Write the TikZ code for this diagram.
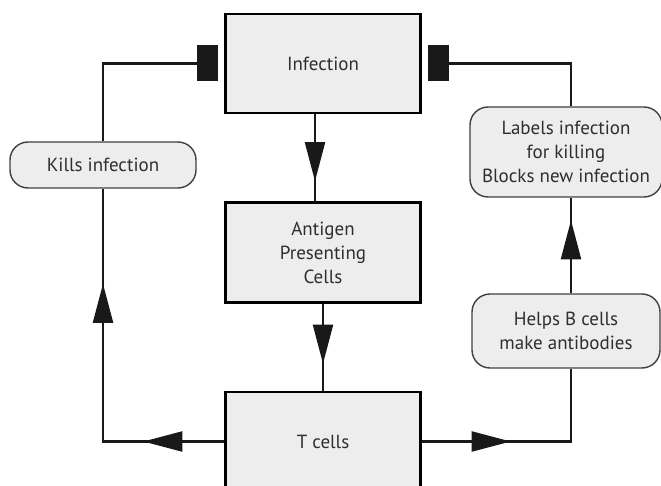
\documentclass[tikz,border=0pt]{standalone}
\usepackage{fontspec}
\setmainfont{PT Sans}
\usepackage{tikz}
\usetikzlibrary{positioning,arrows.meta,decorations.markings}
\definecolor{boxgrey}{HTML}{EDEDED}
\definecolor{inkgrey}{HTML}{2E2E2E}

\begin{document}
\begin{tikzpicture}[x=1pt,y=-1pt,
    every node/.style={on grid,node distance=189pt,align=center,text=inkgrey,
      font=\fontsize{19}{24}\selectfont},
    stage/.style={draw=black,line width=2.4pt,fill=boxgrey,minimum width=195pt,minimum height=99pt},
    effect/.style={draw=black!75,line width=1.4pt,fill=boxgrey,rounded corners=18pt,inner sep=0pt},
    link/.style={draw=black!90,line width=2.1pt},
    fat/.tip={Triangle[length=39pt,width=20pt]},
    block/.tip={Rectangle[length=21pt,width=36pt]},
    mid/.style={decoration={markings,mark=at position #1 with {\arrow{fat}}}}]
    \clip (0,0) rectangle (661,486);
    \node[stage] at (323,63.5) (Inf) {Infection};
    \node[stage,below of=Inf,minimum height=100pt] (APC) {Antigen\\Presenting\\Cells};
    \node[stage,below of=APC] (TCells) {T cells};
    \node[effect,minimum width=186pt,minimum height=46pt] at (103,165) (Kills) {Kills infection};
    \node[effect,minimum width=192pt,minimum height=90pt] at (566,152) (Labels) {Labels infection\\for killing\\Blocks new infection};
    \node[effect,minimum width=188pt,minimum height=74pt] at (566,331) (Helps) {Helps B cells\\make antibodies};
    \draw[link,postaction={mid=67pt,decorate}] ([xshift=-8pt]Inf.south) -- ([xshift=-8pt]APC.north);
    \draw[link,postaction={mid=60pt,decorate}] (APC) -- (TCells);
    \draw[link,postaction={mid=81pt,decorate},postaction={mid=279pt,decorate}] (TCells.west) -| (Kills.south);
    \draw[link,-block,shorten >=6pt] (Kills.north) |- (Inf.west);
    \draw[link,postaction={mid=89pt,decorate}] (TCells.east) -| ([xshift=5pt]Helps.south);
    \draw[link,postaction={mid=73pt,decorate}] ([xshift=5pt]Helps.north) -- ([xshift=5pt]Labels.south);
    \draw[link,-block,shorten >=6pt] ([xshift=5pt]Labels.north) |- (Inf.east);
\end{tikzpicture}
\end{document}
